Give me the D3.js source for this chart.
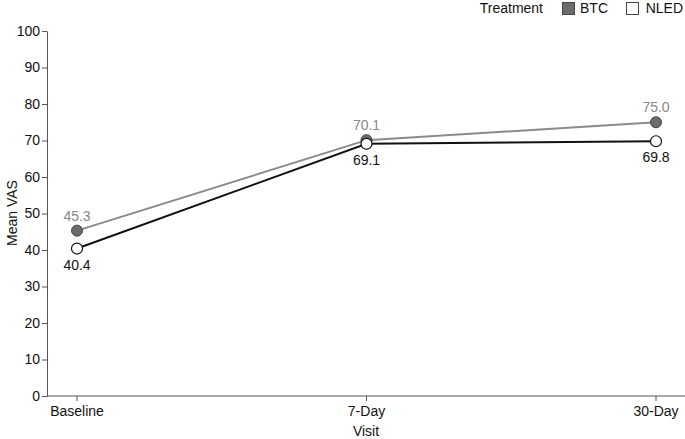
<!DOCTYPE html>
<html><head><meta charset="utf-8">
<script src="https://cdn.jsdelivr.net/npm/d3@7"></script>
<style>body{margin:0;background:#fff;} text{font-family:"Liberation Sans",Arial,sans-serif;}</style>
</head><body>
<svg id="c" width="685" height="439"></svg>
<script>
const visits = ["Baseline", "7-Day", "30-Day"];
const btc = [45.3, 70.1, 75.0];
const nled = [40.4, 69.1, 69.8];
const yTicks = [0,10,20,30,40,50,60,70,80,90,100];

const FS = 14;
const svg = d3.select("#c");
const x = d3.scalePoint().domain(visits).range([77, 656]);
const y = d3.scaleLinear().domain([0,100]).range([396, 31]);

const ya = svg.append("g").attr("transform","translate(47,0)")
  .call(d3.axisLeft(y).tickValues(yTicks).tickSize(5).tickSizeOuter(0));
ya.select(".domain").attr("stroke","#555");
ya.selectAll(".tick line").attr("stroke","#555");
ya.selectAll("text").attr("font-size",FS).attr("fill","#111").attr("x",-7).style("font-family","'Liberation Sans',Arial,sans-serif");

const xa = svg.append("g").attr("transform","translate(0,396)");
xa.append("line").attr("x1",47).attr("x2",685).attr("stroke","#555");
const t = xa.selectAll(".t").data(visits).enter().append("g").attr("transform",d=>`translate(${x(d)},0)`);
t.append("line").attr("y2",5).attr("stroke","#555");
t.append("text").attr("y",20).attr("text-anchor","middle").attr("font-size",FS).attr("fill","#111").text(d=>d);

svg.append("text").attr("x",366).attr("y",436).attr("text-anchor","middle").attr("font-size",FS).attr("fill","#111").text("Visit");
svg.append("text").attr("transform","translate(17,213) rotate(-90)").attr("text-anchor","middle").attr("font-size",FS).attr("fill","#111").text("Mean VAS");

const line = d3.line().x((d,i)=>x(visits[i])).y(d=>y(d));
svg.append("path").datum(btc).attr("d",line).attr("fill","none").attr("stroke","#8a8a8a").attr("stroke-width",2);
svg.append("path").datum(nled).attr("d",line).attr("fill","none").attr("stroke","#111").attr("stroke-width",2);

svg.selectAll(".pb").data(btc).enter().append("circle").attr("cx",(d,i)=>x(visits[i])).attr("cy",d=>y(d)).attr("r",5.5).attr("fill","#6b6b6b").attr("stroke","#444").attr("stroke-width",1);
svg.selectAll(".pn").data(nled).enter().append("circle").attr("cx",(d,i)=>x(visits[i])).attr("cy",d=>y(d)).attr("r",5.5).attr("fill","#fff").attr("stroke","#111").attr("stroke-width",1.2);

svg.selectAll(".lb").data(btc).enter().append("text").attr("x",(d,i)=>x(visits[i])).attr("y",d=>y(d)-10).attr("text-anchor","middle").attr("font-size",FS).attr("fill","#888").text(d=>d.toFixed(1));
svg.selectAll(".ln").data(nled).enter().append("text").attr("x",(d,i)=>x(visits[i])).attr("y",d=>y(d)+21).attr("text-anchor","middle").attr("font-size",FS).attr("fill","#111").text(d=>d.toFixed(1));

const lg = svg.append("g");
lg.append("text").attr("x",543).attr("y",13).attr("text-anchor","end").attr("font-size",FS).attr("fill","#111").text("Treatment");
lg.append("rect").attr("x",562.5).attr("y",2.5).attr("width",12).attr("height",12).attr("fill","#6b6b6b").attr("stroke","#444");
lg.append("text").attr("x",608).attr("y",13).attr("text-anchor","end").attr("font-size",FS).attr("fill","#111").text("BTC");
lg.append("rect").attr("x",626.5).attr("y",2.5).attr("width",12).attr("height",12).attr("fill","#fff").attr("stroke","#444");
lg.append("text").attr("x",683).attr("y",13).attr("text-anchor","end").attr("font-size",FS).attr("fill","#111").text("NLED");
</script>
</body></html>
